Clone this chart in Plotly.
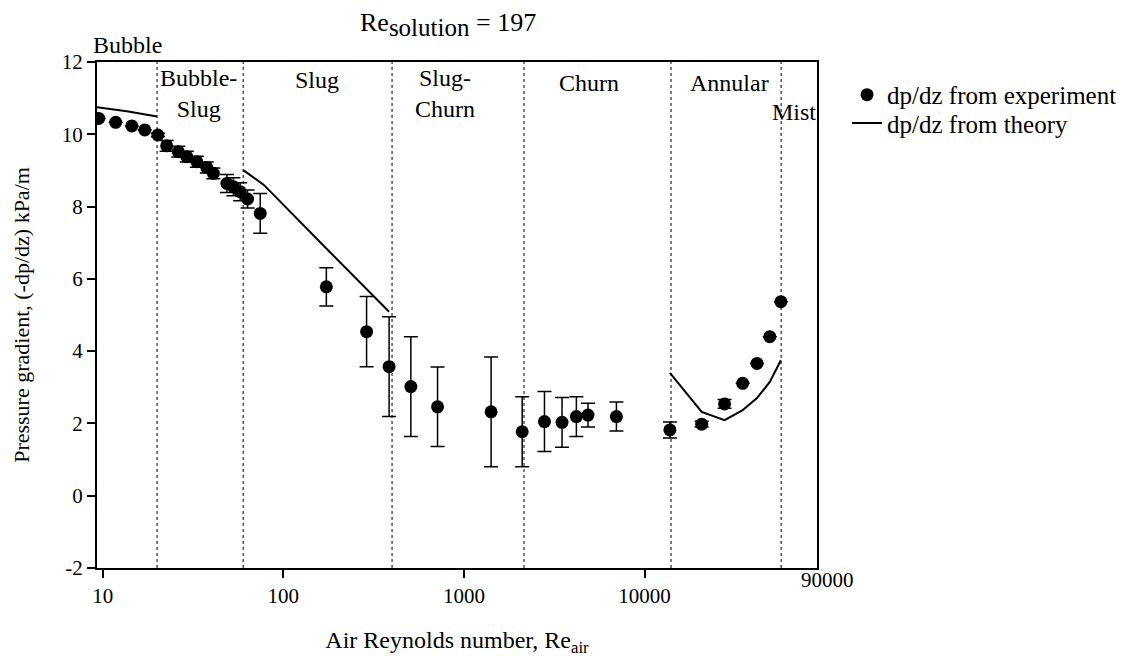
import numpy as np
import plotly.graph_objects as go

# Experimental data (Air Reynolds number, pressure gradient kPa/m, error)
re_exp = [9.5, 11.8, 14.5, 17.1, 20.2, 22.6, 26.2, 29.2, 33.2, 37.7, 41.0, 48.7, 52.9, 57.7,
          63.4, 74.5, 173, 289, 385, 508, 714, 1413, 2100, 2790, 3490, 4190, 4860, 6980,
          13800, 20700, 27700, 34900, 41900, 49300, 56800]
dp_exp = [10.44, 10.33, 10.23, 10.12, 9.98, 9.68, 9.52, 9.38, 9.24, 9.08, 8.92, 8.64, 8.55, 8.41,
          8.21, 7.81, 5.78, 4.54, 3.57, 3.02, 2.46, 2.32, 1.77, 2.05, 2.03, 2.19, 2.23, 2.19,
          1.82, 1.98, 2.54, 3.11, 3.66, 4.40, 5.37]
dp_err = [0, 0, 0, 0, 0.05, 0.15, 0.15, 0.15, 0.15, 0.15, 0.15, 0.25, 0.25, 0.25,
          0.25, 0.55, 0.53, 0.97, 1.38, 1.38, 1.10, 1.52, 0.97, 0.83, 0.69, 0.55, 0.33, 0.40,
          0.22, 0.08, 0.12, 0, 0, 0, 0]

# Theory curves (three regime segments, separated by None)
re_th = [9.3, 13.6, 20, None, 60, 78, 173, 385, None,
         13800, 20700, 27700, 34900, 41900, 49300, 56800]
dp_th = [10.75, 10.64, 10.49, None, 9.01, 8.60, 6.84, 5.09, None,
         3.40, 2.32, 2.09, 2.37, 2.70, 3.15, 3.75]

# Flow regime boundaries
boundaries = [20, 60, 400, 2150, 14000, 57000]

# Regime labels: (text, Re position, vertical position as fraction of plot height)
regime_text = ["Bubble", "Bubble-<br>Slug", "Slug", "Slug-<br>Churn", "Churn", "Annular", "Mist"]
regime_x = [13.8, 33.7, 154, 784, 4890, 29600, 67300]
regime_y = [1.034, 0.937, 0.964, 0.937, 0.958, 0.958, 0.901]

x_ticks = [10, 100, 1000, 10000]
y_ticks = [-2, 0, 2, 4, 6, 8, 10, 12]

FONT = "Liberation Serif"

fig = go.Figure()

bx, by = [], []
for b in boundaries:
    bx += [b, b, None]
    by += [-2, 12, None]
fig.add_trace(go.Scatter(x=bx, y=by, mode="lines", showlegend=False, hoverinfo="skip",
                         line=dict(color="#555555", width=1.5, dash="dot")))

fig.add_trace(go.Scatter(
    x=re_exp, y=dp_exp, mode="markers", name="dp/dz from experiment", legend="legend",
    marker=dict(color="black", size=13),
    error_y=dict(type="data", array=dp_err, color="black", thickness=1.5, width=7),
))
fig.add_trace(go.Scatter(
    x=re_th, y=dp_th, mode="lines", name="dp/dz from theory", legend="legend2",
    line=dict(color="black", width=2), connectgaps=False,
))

for t, xv, yv in zip(regime_text, regime_x, regime_y):
    fig.add_annotation(x=np.log10(xv), y=yv, xref="x", yref="paper", text=t, showarrow=False,
                       xanchor="center", yanchor="middle",
                       font=dict(family=FONT, size=24, color="black"), align="center")

fig.add_annotation(x=np.log10(90000), y=-0.024, xref="x", yref="paper", text="90000",
                   showarrow=False, xshift=10, xanchor="center", yanchor="middle",
                   font=dict(family=FONT, size=21, color="black"))

fig.add_annotation(x=0.4875, y=1.075, xref="paper", yref="paper",
                   text="Re<sub><span style='font-size:25px'>solution</span></sub> = 197",
                   showarrow=False, xanchor="center", yanchor="middle",
                   font=dict(family=FONT, size=26, color="black"))

legend_style = dict(xanchor="left", yanchor="middle",
                    font=dict(family=FONT, size=25, color="black"),
                    bgcolor="rgba(0,0,0,0)")

fig.update_layout(
    width=1130, height=650,
    margin=dict(l=89, r=321, t=54, b=90, autoexpand=False),
    paper_bgcolor="white", plot_bgcolor="white",
    font=dict(family=FONT, size=21, color="black"),
    legend=dict(x=1.0417, y=0.935, **legend_style),
    legend2=dict(x=1.0417, y=0.879, **legend_style),
    xaxis=dict(
        type="log", range=[np.log10(9.3), np.log10(90000)],
        tickvals=x_ticks, ticktext=[str(v) for v in x_ticks],
        ticks="outside", ticklen=8, tickwidth=1.5, tickcolor="black",
        showline=True, linecolor="black", linewidth=2, mirror=True,
        showgrid=False, zeroline=False,
        title=dict(text="Air Reynolds number, Re<sub>air</sub>",
                   font=dict(family=FONT, size=24), standoff=24),
    ),
    yaxis=dict(
        range=[-2, 12], tickvals=y_ticks, ticktext=[str(v) for v in y_ticks],
        ticks="outside", ticklen=8, tickwidth=1.5, tickcolor="black",
        showline=True, linecolor="black", linewidth=2, mirror=True,
        showgrid=False, zeroline=False,
        title=dict(text="Pressure gradient, (-dp/dz) kPa/m",
                   font=dict(family=FONT, size=22), standoff=26),
    ),
)

fig.write_html("out.html")
